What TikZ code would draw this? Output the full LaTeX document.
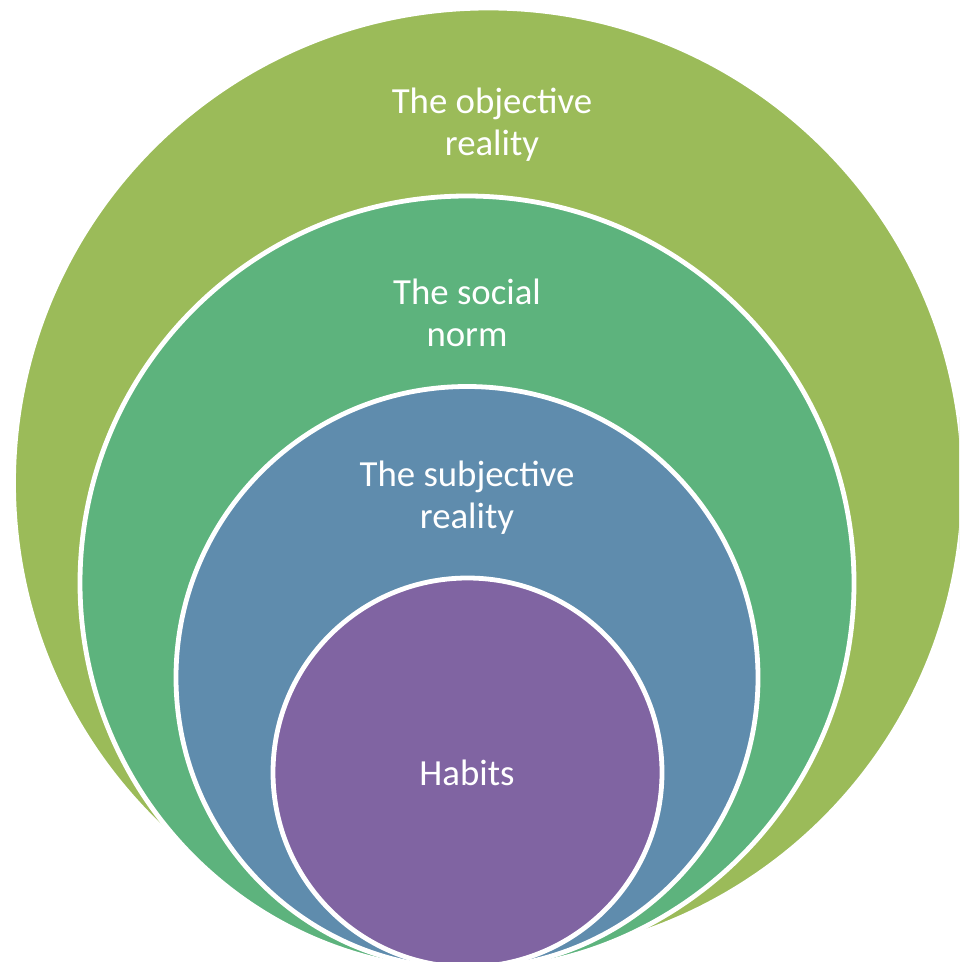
\documentclass[tikz,border=0pt]{standalone}
\usepackage{fontspec}
\setmainfont{Carlito}
\definecolor{olivegreen}{HTML}{9BBB59}
\definecolor{midgreen}{HTML}{5DB37D}
\definecolor{steelblue}{HTML}{5F8CAD}
\definecolor{habitpurple}{HTML}{8064A2}
\begin{document}
\begin{tikzpicture}[x=0.5pt, y=-0.5pt,
	ring/.style={circle, draw=white, line width=2.4pt, inner sep=0pt},
	label/.style={text=white, align=center, font=\fontsize{18.4}{21}\selectfont}]

	\useasboundingbox (0, 0) rectangle (959, 962);
	\clip (0, 0) rectangle (959, 962);

	% nested circles, outside in
	\node[ring, fill=olivegreen, minimum size=475pt] (objective) at (488.5, 483) {};
	\node[ring, fill=midgreen, minimum size=387pt] (social) at (467, 583) {};
	\node[ring, fill=steelblue, minimum size=291pt] (subjective) at (467, 677.5) {};
	\node[ring, fill=habitpurple, minimum size=194.5pt] (habits) at (467.5, 772.5) {};

	\node[label] (objtext) at (492, 125) {The objective\\reality};
	\node[label] (soctext) at (467, 313) {The social\\norm};
	\node[label] (subtext) at (467, 498) {The subjective\\reality};
	\node[label] (habtext) at (467, 773) {Habits};

\end{tikzpicture}
\end{document}
